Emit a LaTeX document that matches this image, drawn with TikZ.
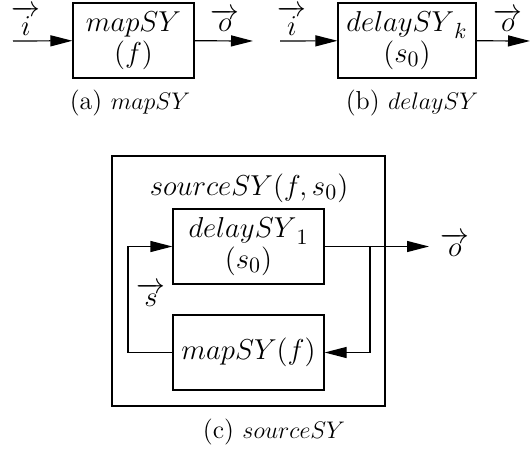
\documentclass[tikz,border=0pt]{standalone}
\usepackage{amsmath}
\usetikzlibrary{arrows.meta,positioning}

\begin{document}
\begin{tikzpicture}[
  x=0.5pt, y=-0.5pt,
  >={Triangle[length=11pt,width=5.5pt]},
  blk/.style={draw, line width=0.6pt, align=center, inner sep=0pt, minimum height=37.5pt, font=\fontsize{15}{15.5}\selectfont},
  frame/.style={draw, line width=1.4pt, minimum width=136.5pt, minimum height=125pt},
  sig/.style={->, line width=0.6pt},
  slabel/.style={inner sep=0pt, anchor=base, font=\fontsize{15}{15.5}\selectfont},
  subcap/.style={inner sep=0pt, font=\fontsize{13}{14}\selectfont}
]
\useasboundingbox (0,0) rectangle (530,455);

% (a) mapSY
\node[blk, minimum width=60.5pt] (mapA) at (133.5,40.5) {$mapSY$\\$(f)$};
\coordinate (ainA) at (13,41);
\coordinate (aoutA) at (253,41);
\draw[sig] (ainA) -- (mapA);
\draw[sig] (mapA) -- (aoutA);
\node[slabel] (iA) at (26,35) {$\overrightarrow{i}$};
\node[slabel] (oA) at (225,32) {$\overrightarrow{o}$};
\node[subcap] (capA) at (130,103) {(a) $mapSY$};

% (b) delaySY
\node[blk, minimum width=69pt] (delB) at (407,40.5) {${delaySY}_k$\\$(s_0)$};
\coordinate (ainB) at (280,41);
\coordinate (aoutB) at (530,41);
\draw[sig] (ainB) -- (delB);
\draw[sig] (delB) -- (aoutB);
\node[slabel] (iB) at (292,35) {$\overrightarrow{i}$};
\node[slabel] (oB) at (508,32) {$\overrightarrow{o}$};
\node[subcap] (capB) at (412,103) {(b) $delaySY$};

% (c) sourceSY
\node[frame] (src) at (248.5,281) {};
\node[slabel, anchor=center] (srcT) at (249,188) {$sourceSY(f,s_0)$};
\node[blk, minimum width=75.5pt] (delC) at (248.5,246.5) {${delaySY}_1$\\$(s_0)$};
\node[blk, minimum width=75.5pt] (mapC) at (248.5,352.5) {$mapSY(f)$};
\coordinate (fbL) at (128,352.5);
\coordinate (brR) at (370,246.5);
\coordinate (outC) at (429,246.5);
\draw[sig] (delC) -- (outC);
\draw[sig] (brR) |- (mapC);
\draw[sig] (mapC) -- (fbL) |- (delC);
\node[slabel] (sC) at (151,306) {$\overrightarrow{s}$};
\node[slabel] (oC) at (455,256) {$\overrightarrow{o}$};
\node[subcap] (capC) at (274,432) {(c) $sourceSY$};
\end{tikzpicture}
\end{document}
